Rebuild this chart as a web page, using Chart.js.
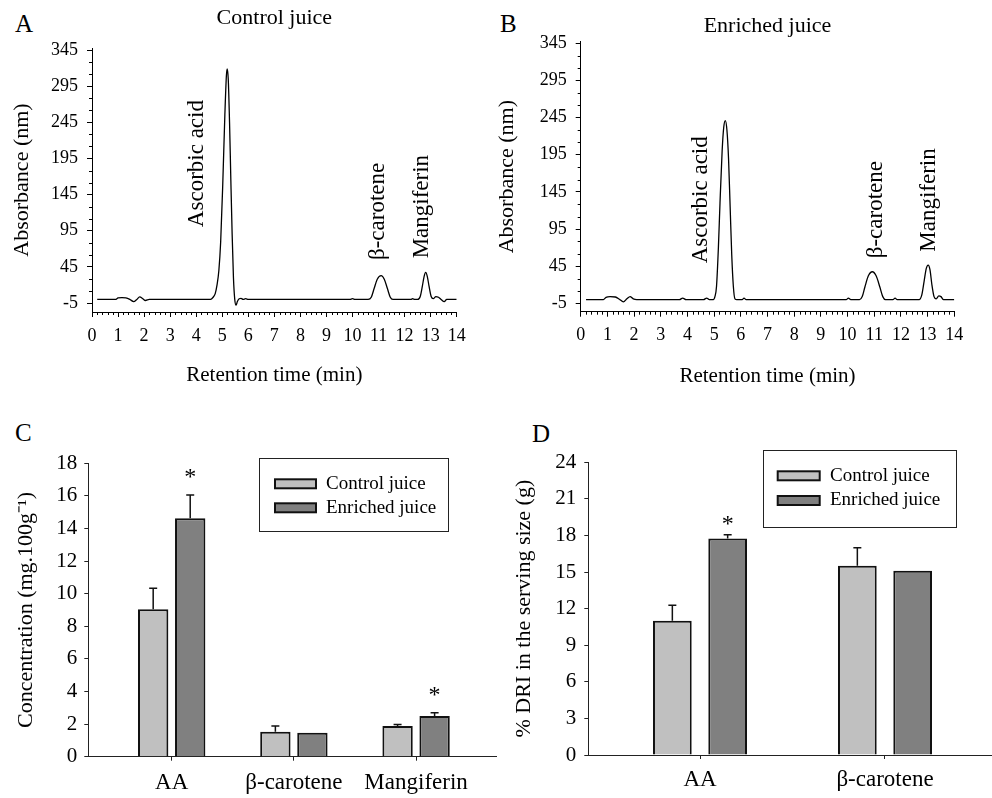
<!DOCTYPE html>
<html>
<head>
<meta charset="utf-8">
<script src="https://cdn.jsdelivr.net/npm/chart.js@4"></script>
<style>
  html, body { margin: 0; padding: 0; background: #fff; width: 992px; height: 798px; overflow: hidden; }
  canvas { position: absolute; }
  .letter { position: absolute; font-family: "Liberation Serif", serif; font-size: 25px; line-height: 1; color: #000; }
</style>
</head>
<body>
<div class="letter" style="left:15px;top:11px">A</div>
<div class="letter" style="left:500px;top:11px">B</div>
<div class="letter" style="left:15px;top:420px">C</div>
<div class="letter" style="left:532px;top:421px">D</div>
<canvas id="chartA" width="490" height="400" style="left:0;top:0"></canvas>
<canvas id="chartB" width="502" height="400" style="left:490px;top:0"></canvas>
<canvas id="chartC" width="500" height="378" style="left:0;top:420px"></canvas>
<canvas id="chartD" width="500" height="378" style="left:500px;top:420px"></canvas>
<script>
// ---- chromatograms (A, B) ----
const timeTicks = [0, 1, 2, 3, 4, 5, 6, 7, 8, 9, 10, 11, 12, 13, 14];
const absTicks = [-5, 45, 95, 145, 195, 245, 295, 345];

const controlTime = [
  0.2, 0.9, 1.0, 1.15, 1.3, 1.45, 1.6, 1.72, 1.83, 1.95, 2.05, 2.2,
  4.55, 4.65, 4.73, 4.8, 4.87, 4.94, 5.02, 5.1, 5.16, 5.19, 5.23, 5.28, 5.33, 5.38, 5.43, 5.48, 5.53, 5.58, 5.65, 5.72, 5.8, 5.9, 6.0,
  9.9, 10.0, 10.1, 10.6, 10.72, 10.83, 10.95, 11.1, 11.22, 11.34, 11.45, 11.55,
  12.25, 12.3, 12.4, 12.5, 12.6, 12.68, 12.75, 12.81, 12.87, 12.94, 13.02, 13.1, 13.2, 13.3, 13.4, 13.52, 13.62, 14.0
];
const controlAbs = [
  0, 0, 2, 2.5, 2, 0, -3, 0, 3.5, 1, -1.5, 0,
  0, 3, 8, 20, 40, 80, 160, 255, 310, 319, 305, 245, 165, 90, 30, 0, -8, -3, 1, 1.5, 0, 1, 0,
  0, 1, 0, 0, 3, 15, 28, 33, 28, 15, 3, 0,
  0, 1, 0, 0, 4, 18, 32, 37.5, 32, 18, 4, 1, 4, 3, 0, -3, 0, 0
];
const enrichedTime = [
  0.2, 0.85, 0.95, 1.1, 1.3, 1.45, 1.6, 1.73, 1.85, 1.97, 2.1,
  3.7, 3.82, 3.95, 4.6, 4.72, 4.82,
  4.97, 5.03, 5.09, 5.16, 5.22, 5.3, 5.36, 5.42, 5.48, 5.54, 5.6, 5.66, 5.72, 5.78, 5.85, 6.05, 6.12, 6.2,
  9.95, 10.03, 10.12, 10.45, 10.55, 10.65, 10.78, 10.93, 11.07, 11.21, 11.32, 11.42, 11.7, 11.78, 11.86,
  12.68, 12.78, 12.87, 12.95, 13.02, 13.09, 13.16, 13.24, 13.32, 13.42, 13.5, 13.6, 14.0
];
const enrichedAbs = [
  0, 0, 3, 4, 3.5, 0.5, -3, 1, 4, 1, 0,
  0, 2, 0, 0, 2, 0,
  0, 4, 18, 70, 130, 200, 232, 241, 228, 190, 125, 60, 18, 1, 0, 0, 2, 0,
  0, 2, 0, 0, 4, 17, 32, 37.5, 32, 17, 4, 0, 0, 2, 0,
  0, 6, 25, 42, 46.5, 40, 20, 4, 1, 5, 4, 0, 0
];

const peakNames = ["Ascorbic acid", "β-carotene", "Mangiferin"];
const controlLabelTime = [4.04, 10.98, 12.67];
const controlLabelBase = [100, 54.5, 56.8];
const enrichedLabelTime = [4.49, 11.06, 13.06];
const enrichedLabelBase = [48.8, 55.6, 64.4];

// ---- bar panels (C, D) ----
const compounds = ["AA", "β-carotene", "Mangiferin"];
const concTicks = [0, 2, 4, 6, 8, 10, 12, 14, 16, 18];
const concControl = [9.04, 1.53, 1.88];
const concControlErr = [1.29, 0.35, 0.1];
const concEnriched = [14.63, 1.47, 2.5];
const concEnrichedErr = [1.43, 0, 0.2];
const concSignificant = [true, false, true];

const nutrients = ["AA", "β-carotene"];
const driTicks = [0, 3, 6, 9, 12, 15, 18, 21, 24];
const driControl = [11.0, 15.52];
const driControlErr = [1.27, 1.48];
const driEnriched = [17.76, 15.1];
const driEnrichedErr = [0.3, 0];
const driSignificant = [true, false];

const SERIF = "'Liberation Serif', 'Times New Roman', serif";
Chart.defaults.font.family = SERIF;
Chart.defaults.color = "#000";
Chart.defaults.animation = false;

const LIGHT = "#c0c0c0";
const DARK = "#808080";

// short ticks between the labelled ones
const minorTicks = {
  id: "minorTicks",
  afterDraw(chart, args, o) {
    const { ctx, scales: { x, y } } = chart;
    ctx.save();
    ctx.strokeStyle = "#000";
    ctx.lineWidth = 1;
    ctx.beginPath();
    for (let i = 0; i < timeTicks.length - 1; i++) {
      const step = (timeTicks[i + 1] - timeTicks[i]) / o.xSplit;
      for (let k = 1; k < o.xSplit; k++) {
        const px = Math.round(x.getPixelForValue(timeTicks[i] + k * step)) + 0.5;
        ctx.moveTo(px, x.top);
        ctx.lineTo(px, x.top + o.len);
      }
    }
    for (let i = 0; i < absTicks.length - 1; i++) {
      const step = (absTicks[i + 1] - absTicks[i]) / o.ySplit;
      for (let k = 1; k < o.ySplit; k++) {
        const py = Math.round(y.getPixelForValue(absTicks[i] + k * step)) + 0.5;
        ctx.moveTo(y.right, py);
        ctx.lineTo(y.right - o.len, py);
      }
    }
    ctx.stroke();
    ctx.restore();
  },
};

// vertical compound names next to the peaks
const peakLabels = {
  id: "peakLabels",
  afterDatasetsDraw(chart, args, o) {
    const { ctx, scales: { x, y } } = chart;
    ctx.save();
    ctx.font = `${o.size}px ${SERIF}`;
    ctx.fillStyle = "#000";
    ctx.textAlign = "left";
    ctx.textBaseline = "middle";
    o.names.forEach((name, i) => {
      ctx.save();
      ctx.translate(x.getPixelForValue(o.times[i]), y.getPixelForValue(o.bases[i]));
      ctx.rotate(-Math.PI / 2);
      ctx.fillText(name, 0, 0);
      ctx.restore();
    });
    ctx.restore();
  },
};

// one-sided error bars + asterisks
const errorBars = {
  id: "errorBars",
  afterDatasetsDraw(chart, args, o) {
    const { ctx, scales: { y } } = chart;
    ctx.save();
    ctx.strokeStyle = "#111";
    ctx.lineWidth = 1.5;
    chart.data.datasets.forEach((ds, di) => {
      const meta = chart.getDatasetMeta(di);
      meta.data.forEach((bar, i) => {
        const err = ds.errors[i];
        const topVal = ds.data[i].y + err;
        const top = y.getPixelForValue(topVal);
        if (err > 0) {
          ctx.beginPath();
          ctx.moveTo(bar.x, bar.y);
          ctx.lineTo(bar.x, top);
          ctx.moveTo(bar.x - o.cap / 2, top);
          ctx.lineTo(bar.x + o.cap / 2, top);
          ctx.stroke();
        }
        if (ds.stars && ds.stars[i]) {
          ctx.fillStyle = "#000";
          ctx.font = `${o.starSize}px ${SERIF}`;
          ctx.textAlign = "center";
          ctx.textBaseline = "alphabetic";
          ctx.fillText("*", bar.x, top - o.starGap + o.starSize * 0.47);
        }
      });
    });
    ctx.restore();
  },
};

// framed legend inside the plot
const boxLegend = {
  id: "boxLegend",
  afterDraw(chart, args, o) {
    const ctx = chart.ctx;
    ctx.save();
    ctx.strokeStyle = "#222";
    ctx.lineWidth = 1;
    ctx.strokeRect(o.left + 0.5, o.top + 0.5, o.width, o.height);
    ctx.font = `${o.size}px ${SERIF}`;
    ctx.textAlign = "left";
    ctx.textBaseline = "middle";
    chart.data.datasets.forEach((ds, i) => {
      const cy = o.rows[i];
      ctx.fillStyle = ds.backgroundColor;
      ctx.fillRect(o.swatchX, cy - o.swatchH / 2, o.swatchW, o.swatchH);
      ctx.lineWidth = 2;
      ctx.strokeStyle = "#111";
      ctx.strokeRect(o.swatchX, cy - o.swatchH / 2, o.swatchW, o.swatchH);
      ctx.fillStyle = "#000";
      ctx.fillText(ds.label, o.textX, cy);
    });
    ctx.restore();
  },
};

function traceChart(id, times, values, p) {
  return new Chart(document.getElementById(id), {
    type: "line",
    data: {
      datasets: [{
        data: times.map((t, i) => ({ x: t, y: values[i] })),
        borderColor: "#000",
        borderWidth: 1.3,
        pointRadius: 0,
        cubicInterpolationMode: "monotone",
        fill: false,
      }],
    },
    options: {
      responsive: false,
      layout: { padding: { left: 0, top: 0, right: p.padRight, bottom: 0 } },
      plugins: {
        legend: { display: false },
        tooltip: { enabled: false },
        title: {
          display: true,
          text: p.title,
          fullSize: false,
          color: "#000",
          font: { size: 22, weight: "normal" },
          padding: { top: p.titleTop, bottom: p.titleBottom },
        },
        minorTicks: { xSplit: 5, ySplit: 3, len: 3 },
        peakLabels: { size: 23, names: peakNames, times: p.labelTimes, bases: p.labelBases },
      },
      scales: {
        x: {
          type: "linear",
          min: 0,
          max: 14,
          afterBuildTicks: (s) => { s.ticks = timeTicks.map((v) => ({ value: v })); },
          afterFit: (s) => { s.height = p.xHeight; },
          ticks: { font: { size: 18 }, padding: 8, autoSkip: false, maxRotation: 0 },
          grid: { drawOnChartArea: false, tickLength: 5, color: "#000" },
          border: { color: "#000", width: 1 },
          title: { display: true, text: "Retention time (min)", font: { size: 21 }, padding: { top: 0, bottom: p.xTitlePad } },
        },
        y: {
          min: p.yMin,
          max: p.yMax,
          afterBuildTicks: (s) => { s.ticks = absTicks.map((v) => ({ value: v })); },
          afterFit: (s) => { s.width = p.yWidth; },
          ticks: { font: { size: 18 }, padding: 9 },
          grid: { drawOnChartArea: false, tickLength: 5, color: "#000" },
          border: { color: "#000", width: 1 },
          title: { display: true, text: "Absorbance (nm)", font: { size: 22 }, padding: { top: p.yTitlePad, bottom: 0 } },
        },
      },
    },
    plugins: [minorTicks, peakLabels],
  });
}

function barChart(id, cats, ticks, control, controlErr, enriched, enrichedErr, stars, p) {
  return new Chart(document.getElementById(id), {
    type: "bar",
    data: {
      datasets: [
        {
          label: "Control juice",
          data: control.map((v, i) => ({ x: i, y: v })),
          errors: controlErr,
          backgroundColor: LIGHT,
          borderColor: "#111",
          borderWidth: 2,
        },
        {
          label: "Enriched juice",
          data: enriched.map((v, i) => ({ x: i, y: v })),
          errors: enrichedErr,
          stars: stars,
          backgroundColor: DARK,
          borderColor: "#111",
          borderWidth: 2,
        },
      ],
    },
    options: {
      responsive: false,
      categoryPercentage: p.catPct,
      barPercentage: p.barPct,
      layout: { padding: { left: 0, top: p.padTop, right: p.padRight, bottom: 0 } },
      plugins: {
        legend: { display: false },
        tooltip: { enabled: false },
        errorBars: { cap: 8, starSize: 24, starGap: p.starGap },
        boxLegend: p.legend,
      },
      scales: {
        x: {
          type: "linear",
          offset: false,
          min: p.xMin,
          max: p.xMax,
          afterBuildTicks: (s) => { s.ticks = cats.map((c, i) => ({ value: i })); },
          afterFit: (s) => { s.height = p.xHeight; },
          ticks: { font: { size: 23 }, padding: p.xLabelPad, autoSkip: false, maxRotation: 0, callback: (v) => cats[v] },
          grid: { offset: false, drawOnChartArea: false, tickLength: 4, color: "#222" },
          border: { color: "#222", width: 1 },
        },
        y: {
          min: 0,
          max: ticks[ticks.length - 1],
          afterBuildTicks: (s) => { s.ticks = ticks.map((v) => ({ value: v })); },
          afterFit: (s) => { s.width = p.yWidth; },
          ticks: { font: { size: 21 }, padding: p.yLabelPad },
          grid: { drawOnChartArea: false, tickLength: 4, color: "#222" },
          border: { color: "#222", width: 1 },
          title: { display: true, text: p.yTitle, font: { size: 22 }, padding: { top: p.yTitlePad, bottom: 0 } },
        },
      },
    },
    plugins: [errorBars, boxLegend],
  });
}

traceChart("chartA", controlTime, controlAbs, {
  title: "Control juice", titleTop: 5, titleBottom: 16.6,
  padRight: 33.3, yMin: -17.4, yMax: 347.8, yWidth: 92, xHeight: 88,
  xTitlePad: 12.4, yTitlePad: 9.5,
  labelTimes: controlLabelTime, labelBases: controlLabelBase,
});

traceChart("chartB", enrichedTime, enrichedAbs, {
  title: "Enriched juice", titleTop: 12.6, titleBottom: 2.7,
  padRight: 37.7, yMin: -16.3, yMax: 347.2, yWidth: 90.7, xHeight: 88.3,
  xTitlePad: 10.7, yTitlePad: 4.3,
  labelTimes: enrichedLabelTime, labelBases: enrichedLabelBase,
});

barChart("chartC", compounds, concTicks, concControl, concControlErr, concEnriched, concEnrichedErr, concSignificant, {
  catPct: 0.606, barPct: 0.82, padTop: 43.3, padRight: 4,
  xMin: -0.6825, xMax: 2.654, xHeight: 41.3, xLabelPad: 8.8,
  yWidth: 88.3, yLabelPad: 7, yTitlePad: 12.8,
  yTitle: "Concentration (mg.100g⁻¹)", starGap: 22,
  legend: { left: 259, top: 38, width: 189, height: 73, size: 19, swatchX: 275, swatchW: 41, swatchH: 9, textX: 326, rows: [63.8, 87.8] },
});

barChart("chartD", nutrients, driTicks, driControl, driControlErr, driEnriched, driEnrichedErr, driSignificant, {
  catPct: 0.598, barPct: 0.7, padTop: 42.3, padRight: 3.3,
  xMin: -0.6038, xMax: 1.6038, xHeight: 43, xLabelPad: 7.2,
  yWidth: 88.3, yLabelPad: 8, yTitlePad: 11.5,
  yTitle: "% DRI in the serving size (g)", starGap: 15,
  legend: { left: 263, top: 30, width: 193, height: 77, size: 19, swatchX: 277.7, swatchW: 42, swatchH: 9, textX: 330, rows: [55.8, 80.5] },
});
</script>
</body>
</html>
